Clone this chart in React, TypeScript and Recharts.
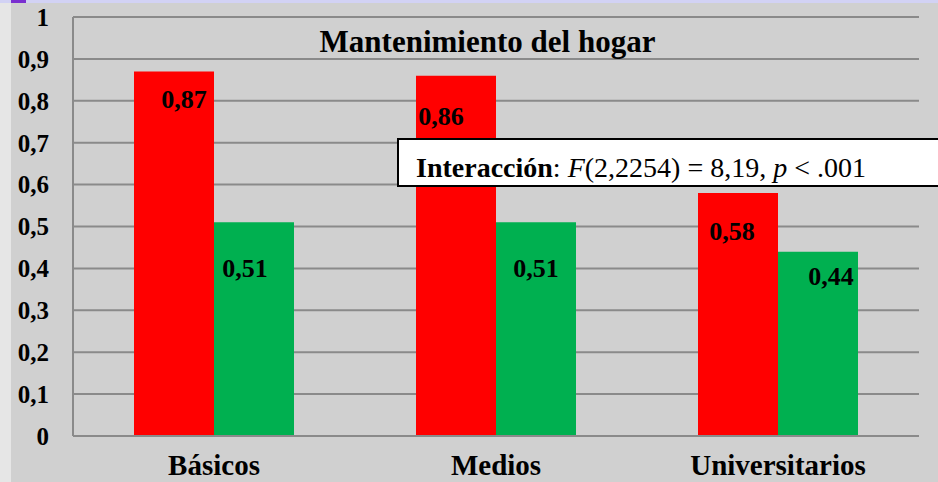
import React from 'react';
import { BarChart, Bar, XAxis, YAxis, CartesianGrid, LabelList } from 'recharts';

const categories = ['Básicos', 'Medios', 'Universitarios'];
const redValues = [0.87, 0.86, 0.58];
const greenValues = [0.51, 0.51, 0.44];
const yTicks = [0, 0.1, 0.2, 0.3, 0.4, 0.5, 0.6, 0.7, 0.8, 0.9, 1];

// label nudges so the numbers sit where they do in the original
const redLabelShift = [[10, 28], [-15, 41], [-6, 39]];
const greenLabelShift = [[-9, 46], [0, 46], [13, 25]];

const data = categories.map((name, i) => ({ name, rojo: redValues[i], verde: greenValues[i] }));

const serif = '"Liberation Serif", "Times New Roman", serif';
const fmt = (v: number) => String(v).replace('.', ',');

const makeLabel = (shift: number[][]) => (props: any) => {
  const { x, y, width, value, index } = props;
  const [dx, dy] = shift[index] || [0, 0];
  return (
    <text
      x={x + width / 2 + dx}
      y={y + dy}
      textAnchor="middle"
      dominantBaseline="central"
      fontFamily={serif}
      fontWeight="bold"
      fontSize={26}
      fill="#000"
    >
      {fmt(value)}
    </text>
  );
};

const App: React.FC = () => {
  return (
    <div style={{ position: 'absolute', left: 0, top: 0, width: 938, height: 482, background: '#e6e6e6', overflow: 'hidden' }}>
      <div style={{ position: 'absolute', left: 11, top: 0, width: 927, height: 482, background: '#d0d0d0' }} />
      <div style={{ position: 'absolute', left: 0, top: 0, width: 938, height: 3, background: '#d2d2f4' }} />
      <div style={{ position: 'absolute', left: 11, top: 0, width: 15, height: 3, background: '#7a2fd0' }} />
      <div style={{ position: 'absolute', left: 0, top: 0 }}>
        <BarChart width={938} height={482} data={data} margin={{ top: 17, right: 19, bottom: 6, left: 13 }} barGap={0} barSize={80}>
          <CartesianGrid vertical={false} stroke="#8a8a8a" strokeWidth={2} />
          <XAxis
            dataKey="name"
            axisLine={{ stroke: '#8a8a8a', strokeWidth: 2 }}
            tickLine={false}
            height={40}
            tickMargin={12}
            tick={{ fontFamily: serif, fontWeight: 'bold', fontSize: 29, fill: '#000' }}
          />
          <YAxis
            domain={[0, 1]}
            ticks={yTicks}
            interval={0}
            width={60}
            axisLine={{ stroke: '#8a8a8a', strokeWidth: 2 }}
            tickLine={false}
            tickMargin={18}
            tickFormatter={fmt}
            tick={{ fontFamily: serif, fontWeight: 'bold', fontSize: 25, fill: '#000' }}
          />
          <Bar dataKey="rojo" fill="#ff0000" isAnimationActive={false}>
            <LabelList dataKey="rojo" content={makeLabel(redLabelShift)} />
          </Bar>
          <Bar dataKey="verde" fill="#00b050" isAnimationActive={false}>
            <LabelList dataKey="verde" content={makeLabel(greenLabelShift)} />
          </Bar>
        </BarChart>
      </div>
      <div style={{ position: 'absolute', left: 0, width: 975, top: 26, textAlign: 'center', fontFamily: serif, fontWeight: 'bold', fontSize: 31, lineHeight: '32px', color: '#000' }}>
        Mantenimiento del hogar
      </div>
      <div style={{ position: 'absolute', left: 397, top: 138, width: 560, height: 45, background: '#fff', border: '2px solid #000', fontFamily: serif, fontSize: 28, lineHeight: '55px', color: '#000', paddingLeft: 17, boxSizing: 'content-box', overflow: 'hidden', whiteSpace: 'nowrap' }}>
        <b>Interacción</b>: <i>F</i>(2,2254) = 8,19, <i>p</i> &lt; .001
      </div>
    </div>
  );
};

export default App;
